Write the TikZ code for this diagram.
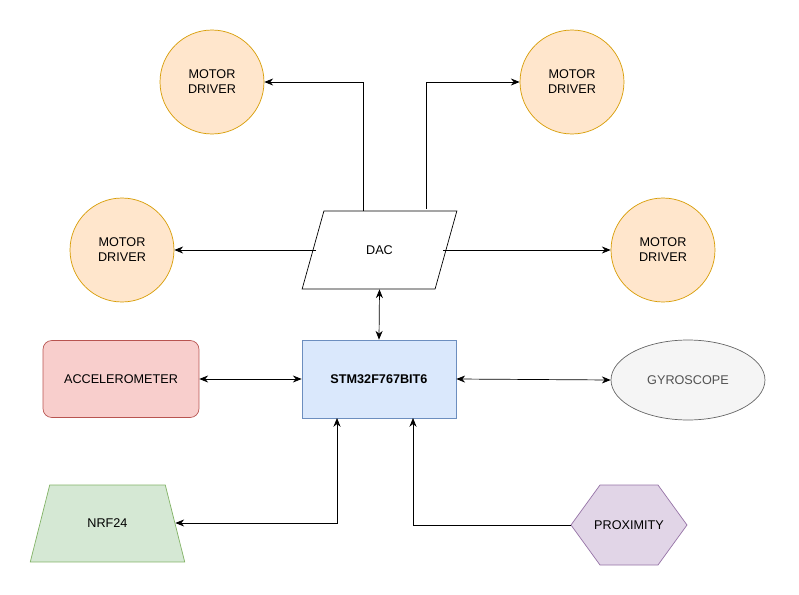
\documentclass[tikz,border=0pt]{standalone}
\usepackage{fontspec}
\setmainfont{Liberation Sans}
\usetikzlibrary{arrows.meta,positioning,shapes.geometric}
\definecolor{motfill}{HTML}{FFE6CC}\definecolor{motdraw}{HTML}{D79B00}
\definecolor{stmfill}{HTML}{DAE8FC}\definecolor{stmdraw}{HTML}{6C8EBF}
\definecolor{accfill}{HTML}{F8CECC}\definecolor{accdraw}{HTML}{B85450}
\definecolor{gyrfill}{HTML}{F5F5F5}\definecolor{gyrdraw}{HTML}{666666}
\definecolor{nrffill}{HTML}{D5E8D4}\definecolor{nrfdraw}{HTML}{82B366}
\definecolor{prxfill}{HTML}{E1D5E7}\definecolor{prxdraw}{HTML}{9673A6}
\tikzset{
  motor/.style={circle, draw=motdraw, fill=motfill, minimum size=2.08cm, align=center, inner sep=0pt},
  link/.style={-{Stealth[length=5pt,width=4pt]}},
  dlink/.style={{Stealth[length=5pt,width=4pt]}-{Stealth[length=5pt,width=4pt]}}
}
\begin{document}
\begin{tikzpicture}[x=0.02cm, y=-0.02cm, font=\fontsize{7.2}{8.6}\selectfont]
  \useasboundingbox (0,0) rectangle (799,595);
  % motor drivers
  \node[motor] (m1) at (212,82) {MOTOR\\DRIVER};
  \node[motor] (m2) at (572,82) {MOTOR\\DRIVER};
  \node[motor] (m3) at (122,250) {MOTOR\\DRIVER};
  \node[motor] (m4) at (663,250) {MOTOR\\DRIVER};
  % converter and controller
  \node[trapezium, draw, trapezium left angle=70, trapezium right angle=110,
        trapezium stretches=true, minimum width=3.1cm, minimum height=1.56cm] (dac) at (379.5,250) {DAC};
  \node[draw=stmdraw, fill=stmfill, minimum width=3.08cm, minimum height=1.56cm, font=\fontsize{7.2}{8.6}\selectfont\bfseries] (stm) at (379,379) {STM32F767BIT6};
  % sensors
  \node[draw=accdraw, fill=accfill, rounded corners=5pt, minimum width=3.12cm, minimum height=1.54cm] (acc) at (121,379) {ACCELEROMETER};
  \node[ellipse, draw=gyrdraw, fill=gyrfill, text=gyrdraw!80!black, minimum width=3.08cm, minimum height=1.6cm] (gyro) at (688,380) {GYROSCOPE};
  \node[trapezium, draw=nrfdraw, fill=nrffill, trapezium left angle=67, trapezium right angle=67,
        trapezium stretches=true, minimum width=3.1cm, minimum height=1.54cm] (nrf) at (107.5,523.5) {NRF24};
  \fill[prxfill, draw=prxdraw] (571,525) -- (600,485) -- (658,485) -- (687,525) -- (658,565) -- (600,565) -- cycle;
  \node[minimum width=2.32cm, minimum height=1.6cm] (prox) at (629,525) {PROXIMITY};
  % connections
  \draw[link] (363,211) |- (m1.east);
  \draw[link] (426,209) |- (m2.west);
  \draw[link] (316,250) -- (m3.east);
  \draw[link] (443,250) -- (m4.west);
  \draw[dlink] (dac.south) -- (stm.north);
  \draw[dlink] (acc.east) -- (stm.west);
  \draw[dlink] (stm.east) -- (gyro.west);
  \draw[dlink] (nrf.east |- 0,523) -| (337,418);
  \draw[link] (prox.west) -| (413,418);
\end{tikzpicture}
\end{document}
